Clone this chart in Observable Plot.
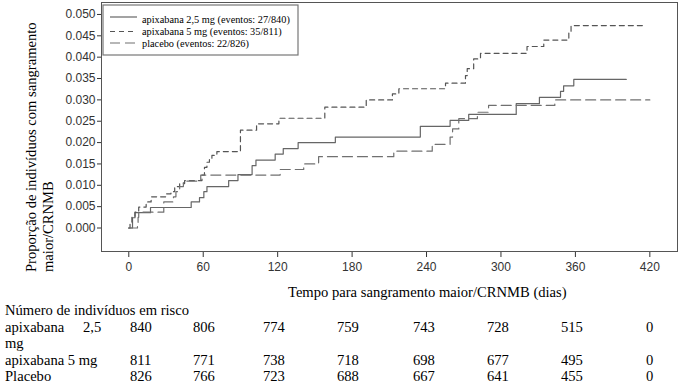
<!DOCTYPE html>
<html><head><meta charset="utf-8">
<script src="https://cdn.jsdelivr.net/npm/d3@7"></script>
<script src="https://cdn.jsdelivr.net/npm/@observablehq/plot@0.6"></script>
<style>
html,body{margin:0;padding:0;background:#fff;}
</style></head><body><div id="chart"></div>
<script>
// ---- data ----
const series = ["apixabana 2,5 mg (eventos: 27/840)", "apixabana 5 mg (eventos: 35/811)", "placebo (eventos: 22/826)"];

const days25 = [0, 3, 5, 17.5, 50.3, 57, 60.5, 63, 80.5, 88, 99.4, 102.5, 118, 124.5, 136.5, 166.5, 235, 259, 274, 312.3, 331, 348, 350.5, 358.7, 401];
const prop25 = [0, .0024, .0036, .0048, .0061, .0071, .0085, .0097, .0111, .0125, .0146, .0159, .0173, .0186, .0200, .0213, .0238, .0252, .0266, .0291, .0306, .0320, .0333, .0348, .0348];

const days5 = [0, 1, 2.5, 5, 8, 14, 18, 30, 34, 37, 41, 45, 59, 61, 63, 65, 67, 71, 90, 103, 121, 158, 191.4, 212.5, 217.7, 255.3, 271.4, 272.8, 278, 283.5, 321, 334.5, 354.7, 356.5, 415];
const prop5 = [0, .0012, .0025, .0037, .0049, .0061, .0073, .0080, .0085, .0097, .0104, .0111, .0124, .0142, .0154, .0162, .0170, .0179, .0229, .0244, .0257, .0283, .0300, .0314, .0326, .0339, .0357, .0373, .0396, .0409, .0425, .0440, .0457, .0474, .0474];

const daysPl = [0, 7, 7.5, 8, 28.2, 36, 38, 41, 44, 58, 122, 141, 153, 213.6, 244.6, 259, 261, 266, 281, 290, 343.4, 420];
const propPl = [0, .0012, .0025, .0037, .0061, .0073, .0085, .0097, .0110, .0124, .0137, .0150, .0167, .0180, .0196, .0213, .0232, .0256, .0271, .0287, .0300, .0300];

const xTicks = [0, 60, 120, 180, 240, 300, 360, 420];
const yTicks = [0, 0.005, 0.010, 0.015, 0.020, 0.025, 0.030, 0.035, 0.040, 0.045, 0.050];

const riskTitle = "Número de indivíduos em risco";
const risk25 = [840, 806, 774, 759, 743, 728, 515, 0];
const risk5 = [811, 771, 738, 718, 698, 677, 495, 0];
const riskPl = [826, 766, 723, 688, 667, 641, 455, 0];

// ---- styles / layout ----
const styles = [
  {stroke: "#666", dash: null, width: 1.2},
  {stroke: "#555", dash: "5,4", width: 1.2},
  {stroke: "#707070", dash: "10,5", width: 1.2}
];
const serif = "'Liberation Serif','Times New Roman',serif";
const colLeft = [130, 193, 263, 337, 413, 487, 561, 646];

const toRows = (t, v, s) => t.map((d, i) => ({day: d, p: v[i], series: s}));
const data = [toRows(days25, prop25, series[0]), toRows(days5, prop5, series[1]), toRows(daysPl, propPl, series[2])];

const plot = Plot.plot({
  width: 680, height: 389,
  marginLeft: 101, marginRight: 3, marginTop: 2, marginBottom: 138,
  x: {domain: [-22, 442.3], ticks: xTicks, tickSize: 6, tickPadding: 5, label: null},
  y: {domain: [-0.0055, 0.0528], ticks: yTicks, tickFormat: d3.format(".3f"), tickSize: 4, tickPadding: 2, label: null},
  style: {background: "white", fontFamily: "'Liberation Sans Narrow','Liberation Sans',Arial,sans-serif", fontSize: "12px", color: "#333", overflow: "visible"},
  marks: [
    Plot.frame({stroke: "#555"}),
    ...data.map((rows, i) => Plot.line(rows, {x: "day", y: "p", curve: "step-after", stroke: styles[i].stroke, strokeWidth: styles[i].width, strokeDasharray: styles[i].dash}))
  ]
});
document.getElementById("chart").appendChild(plot);

const svg = d3.select(plot);
const g = svg.append("g").attr("font-family", serif).attr("fill", "#000").attr("text-anchor", "start");

// y label (two lines)
["Proporção de indivíduos com sangramento", "maior/CRNMB"].forEach((t, i) => {
  g.append("text").attr("transform", `translate(${36 + i * 17},272) rotate(-90)`)
    .attr("font-size", "14.6px").attr("text-anchor", "start").text(t);
});
// x label
g.append("text").attr("x", 288).attr("y", 297).attr("font-size", "14.6px").text("Tempo para sangramento maior/CRNMB (dias)");

// legend
const lg = svg.append("g").attr("text-anchor", "start");
lg.append("rect").attr("x", 103).attr("y", 5).attr("width", 195).attr("height", 50).attr("fill", "white").attr("stroke", "#777").attr("stroke-width", 1.2);
const lineY = [17, 31.5, 43], textY = [22.5, 35, 47];
series.forEach((s, i) => {
  lg.append("line").attr("x1", 110).attr("x2", 137).attr("y1", lineY[i]).attr("y2", lineY[i])
    .attr("stroke", styles[i].stroke).attr("stroke-width", styles[i].width).attr("stroke-dasharray", styles[i].dash);
  lg.append("text").attr("x", 142).attr("y", textY[i]).attr("font-family", serif).attr("font-size", "10.3px").attr("fill", "#000").text(s);
});

// risk table
const tg = svg.append("g").attr("font-family", serif).attr("font-size", "14.6px").attr("fill", "#000").attr("text-anchor", "start");
tg.append("text").attr("x", 5).attr("y", 315).text(riskTitle);
tg.append("text").attr("x", 5).attr("y", 331.5).text("apixabana");
tg.append("text").attr("x", 83).attr("y", 331.5).text("2,5");
tg.append("text").attr("x", 5).attr("y", 347.5).text("mg");
tg.append("text").attr("x", 5).attr("y", 365).text("apixabana 5 mg");
tg.append("text").attr("x", 5).attr("y", 381).text("Placebo");
[[risk25, 331.5], [risk5, 365], [riskPl, 381]].forEach(([vals, y]) => {
  vals.forEach((v, j) => tg.append("text").attr("x", colLeft[j]).attr("y", y).text(v));
});
</script></body></html>
